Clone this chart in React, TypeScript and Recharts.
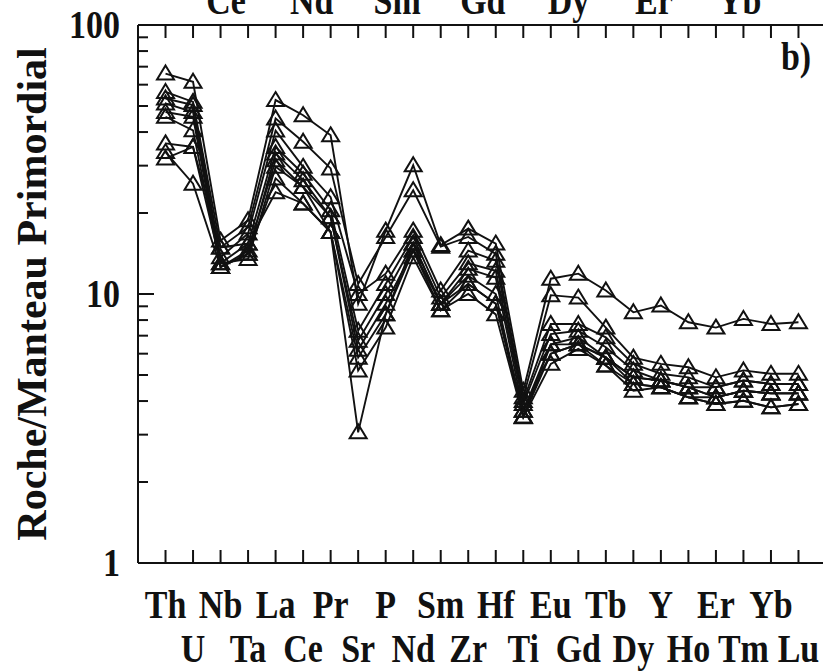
import { LineChart, Line, XAxis, YAxis } from "recharts";

const elements = ["Th", "U", "Nb", "Ta", "La", "Ce", "Pr", "Sr", "P", "Nd", "Sm", "Zr", "Hf", "Ti", "Eu", "Gd", "Tb", "Dy", "Y", "Ho", "Er", "Tm", "Yb", "Lu"];

// labels of the panel above, cut by the top edge
const upperLabels = ["Ce", "Nd", "Sm", "Gd", "Dy", "Er", "Yb"];

const s1 = [66, 61.5, 15.8, 18.8, 52.6, 46.2, 38.9, 9.2, 17.2, 30.1, 15.2, 17.5, 15.4, 4.37, 11.4, 11.9, 10.3, 8.55, 9.06, 7.85, 7.5, 8.08, 7.74, 7.85];
const s2 = [56.4, 51.8, 14.9, 17.7, 44.9, 36.8, 29.3, 10.9, 16.3, 24.3, 15.0, 16.3, 14.1, 4.13, 9.9, 9.7, 7.5, 5.8, 5.5, 5.34, 4.9, 5.2, 5.05, 5.05];
const s3 = [53.3, 50.4, 13.7, 16.8, 40.5, 29.7, 22.9, 10.0, 11.9, 17.2, 10.3, 14.5, 13.3, 4.0, 7.74, 7.74, 6.9, 5.5, 5.05, 4.9, 4.5, 4.77, 4.63, 4.63];
const s4 = [51.1, 47.5, 13.0, 15.4, 35.2, 28.0, 20.5, 7.3, 10.9, 16.3, 9.7, 13.0, 12.2, 3.9, 7.1, 7.3, 6.34, 5.2, 4.77, 4.5, 4.5, 4.77, 4.63, 4.63];
const s5 = [47.5, 45.6, 12.6, 14.1, 33.3, 26.5, 19.3, 6.7, 10.0, 15.4, 9.2, 12.4, 11.5, 3.68, 6.5, 6.9, 5.8, 4.9, 4.77, 4.5, 4.13, 4.37, 4.27, 4.27];
const s6 = [45.6, 40.6, 12.6, 14.5, 31.4, 25.0, 19.3, 6.2, 9.2, 14.5, 9.2, 11.7, 10.0, 3.5, 6.0, 6.5, 5.8, 4.63, 4.5, 4.13, 4.13, 4.37, 4.27, 4.27];
const s7 = [36.3, 35.2, 13.0, 13.5, 29.7, 25.0, 17.0, 5.8, 8.4, 15.4, 9.2, 10.9, 9.2, 3.5, 6.5, 6.5, 5.42, 4.63, 4.5, 4.13, 3.9, 4.01, 3.79, 3.9];
const s8 = [33.7, 25.7, 12.6, 14.1, 26.9, 21.7, 17.0, 5.2, 7.5, 13.7, 8.7, 10.0, 8.4, 3.48, 5.5, 6.25, 5.42, 4.37, 4.5, 4.13, 3.9, 4.01, 3.79, 3.9];
const s9 = [31.9, 35.2, 14.9, 15.4, 23.9, 21.7, 17.0, 3.06, 8.4, 14.5, 8.7, 10.9, 9.2, 3.68, 6.0, 6.5, 5.8, 4.9, 4.77, 4.5, 4.13, 4.37, 4.27, 4.27];

const series = { s1, s2, s3, s4, s5, s6, s7, s8, s9 };

const yTicks = [1, 2, 3, 4, 5, 6, 7, 8, 9, 10, 20, 30, 40, 50, 60, 70, 80, 90, 100];
const yLabels = [1, 10, 100];
const xTicks = elements.map((_, i) => i + 1);

const data = elements.map((el, i) => {
  const row: Record<string, number | string> = { x: i + 1, el };
  Object.entries(series).forEach(([k, v]) => { row[k] = v[i]; });
  return row;
});

const FONT = "'Liberation Serif', 'Times New Roman', serif";
const INK = "#111";

const BottomTick = (p: any) => {
  const i = p.payload.value - 1;
  const lower = i % 2 === 1;
  return (
    <g>
      <line x1={p.x} x2={p.x} y1={p.y} y2={p.y - 13} stroke={INK} strokeWidth={2} />
      <text transform={`translate(${p.x},${p.y + (lower ? 99 : 55)}) scale(0.85,1)`} textAnchor="middle"
        fontFamily={FONT} fontWeight="bold" fontSize={40} fill={INK}>
        {elements[i]}
      </text>
    </g>
  );
};

const TopTick = (p: any) => (
  <line x1={p.x} x2={p.x} y1={p.y} y2={p.y + 13} stroke={INK} strokeWidth={2} />
);

const LeftTick = (p: any) => {
  const v = p.payload.value;
  const major = yLabels.includes(v);
  return (
    <g>
      <line x1={p.x} x2={p.x + (major ? 16 : 10)} y1={p.y} y2={p.y} stroke={INK} strokeWidth={2} />
      {major && (
        <text transform={`translate(${p.x - 18},${p.y + 13}) scale(0.85,1)`} textAnchor="end"
          fontFamily={FONT} fontWeight="bold" fontSize={40} fill={INK}>
          {v}
        </text>
      )}
    </g>
  );
};

const RightTick = (p: any) => {
  const major = yLabels.includes(p.payload.value);
  return <line x1={p.x} x2={p.x - (major ? 16 : 10)} y1={p.y} y2={p.y} stroke={INK} strokeWidth={2} />;
};

const Triangle = (p: any) => {
  if (p.cx == null || p.cy == null) return <g key={p.key} />;
  return (
    <path key={p.key}
      d={`M${p.cx},${p.cy - 8} L${p.cx + 8.5},${p.cy + 6} L${p.cx - 8.5},${p.cy + 6} Z`}
      fill="none" stroke={INK} strokeWidth={2} />
  );
};

export default function App() {
  return (
    <div style={{ position: "absolute", left: 0, top: 0, width: 823, height: 672, overflow: "hidden", background: "#fff" }}>
      <LineChart width={840} height={672} data={data} margin={{ top: 0, right: 0, bottom: 0, left: 0 }}>
        <XAxis xAxisId="b" dataKey="x" type="number" domain={[0, 25]} ticks={xTicks} interval={0}
          height={109} tickSize={0} tickMargin={0} tickLine={false} tick={<BottomTick />}
          axisLine={{ stroke: INK, strokeWidth: 2 }} />
        <XAxis xAxisId="t" orientation="top" dataKey="x" type="number" domain={[0, 25]} ticks={xTicks} interval={0}
          height={25} tickSize={0} tickMargin={0} tickLine={false} tick={<TopTick />}
          axisLine={{ stroke: INK, strokeWidth: 2 }} />
        <YAxis yAxisId="l" scale="log" domain={[1, 100]} ticks={yTicks} interval={0} width={138}
          tickSize={0} tickMargin={0} tickLine={false} tick={<LeftTick />}
          axisLine={{ stroke: INK, strokeWidth: 2 }}
          label={{ value: "Roche/Manteau Primordial", angle: -90, position: "insideLeft", offset: 31,
            style: { textAnchor: "middle", fontFamily: FONT, fontWeight: "bold", fontSize: 42, fill: INK } }} />
        <YAxis yAxisId="r" orientation="right" scale="log" domain={[1, 100]} ticks={yTicks} interval={0} width={14}
          tickSize={0} tickMargin={0} tickLine={false} tick={<RightTick />}
          axisLine={{ stroke: INK, strokeWidth: 2 }} />
        {Object.keys(series).map(k => (
          <Line key={k} xAxisId="b" yAxisId="l" dataKey={k} type="linear" stroke={INK} strokeWidth={1.9}
            dot={(p: any) => <Triangle {...p} key={`${k}-${p.index}`} />} isAnimationActive={false} />
        ))}
        <text transform="translate(796,70) scale(0.85,1)" textAnchor="middle" fontFamily={FONT}
          fontWeight="bold" fontSize={40} fill={INK}>b)</text>
        {upperLabels.map((t, i) => (
          <text key={t} transform={`translate(${226 + 85.6 * i},14) scale(0.85,1)`} textAnchor="middle"
            fontFamily={FONT} fontWeight="bold" fontSize={40} fill={INK}>{t}</text>
        ))}
      </LineChart>
    </div>
  );
}
